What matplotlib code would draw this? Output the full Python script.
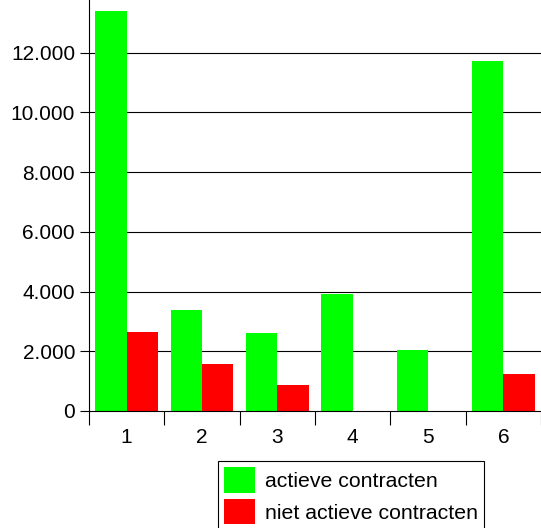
import matplotlib
matplotlib.use("Agg")
import numpy as np
import matplotlib.pyplot as plt
from matplotlib.patches import Patch
from matplotlib.ticker import FuncFormatter, FixedLocator

# data
categories = ["1", "2", "3", "4", "5", "6"]
actief = [13400, 3370, 2600, 3910, 2030, 11720]
niet_actief = [2640, 1560, 860, 0, 0, 1230]
series_names = ["actieve contracten", "niet actieve contracten"]
y_ticks = [0, 2000, 4000, 6000, 8000, 10000, 12000, 14000]

plt.rcParams['font.family'] = ['Liberation Sans', 'DejaVu Sans']

fig = plt.figure(figsize=(5.41, 5.28), dpi=100)
# plot area runs past the top of the picture, like the cropped original
ax = fig.add_axes([89/541, 1 - 411/528, 452/541, 418/528])

x = np.arange(len(categories))
w = 0.415
ax.bar(x - w/2, actief, w, color="#00ff00", zorder=3)
ax.bar(x + w/2, niet_actief, w, color="#ff0000", zorder=3)

ax.set_xlim(-0.5, len(categories) - 0.5)
ax.set_ylim(0, 14000)

ax.yaxis.set_major_locator(FixedLocator(y_ticks))
ax.yaxis.set_major_formatter(FuncFormatter(lambda v, p: f"{int(v):,}".replace(",", ".")))
for v in y_ticks[1:]:
    ax.axhline(v, color="black", lw=0.8, zorder=1)

ax.set_xticks(x)
ax.set_xticklabels(categories)
ax.set_xticks(np.arange(len(categories) + 1) - 0.5, minor=True)
ax.tick_params(axis="x", which="major", length=0, pad=12, labelsize=15)
ax.tick_params(axis="x", which="minor", length=10, width=0.8, direction="out")
ax.tick_params(axis="y", length=6.5, width=0.8, pad=3.5, labelsize=15)

for s in ["top", "right"]:
    ax.spines[s].set_visible(False)
ax.spines["left"].set_linewidth(0.8)
ax.spines["bottom"].set_linewidth(0.8)
ax.spines["bottom"].set_zorder(4)

handles = [Patch(facecolor="#00ff00"), Patch(facecolor="#ff0000")]
leg = fig.legend(handles, series_names, loc="upper left",
                 bbox_to_anchor=(218/541, 1 - 461/528), fontsize=15.3,
                 frameon=True, fancybox=False, framealpha=1, edgecolor="black",
                 handlelength=1.43, handleheight=1.45, handletextpad=0.48,
                 labelspacing=0.3, borderpad=0.3, borderaxespad=0)
leg.get_frame().set_linewidth(0.8)

plt.savefig("out.png", dpi=100)
